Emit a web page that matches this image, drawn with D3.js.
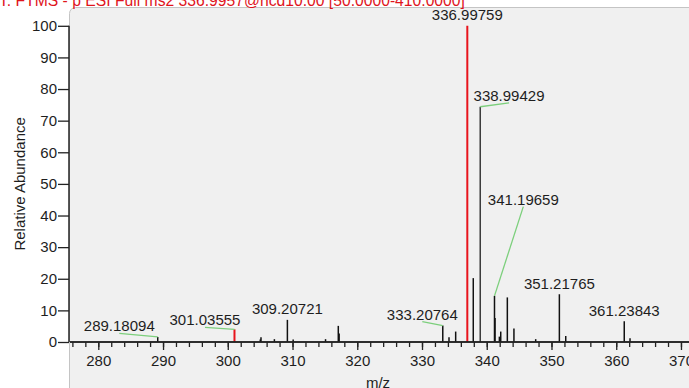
<!DOCTYPE html>
<html>
<head>
<meta charset="utf-8">
<script src="https://cdn.jsdelivr.net/npm/d3@7"></script>
<style>
  html, body { margin: 0; padding: 0; background: #ffffff; }
  svg { display: block; font-family: "Liberation Sans", Arial, sans-serif; }
</style>
</head>
<body>
<svg id="chart" width="689" height="388"></svg>
<script>
// ---- data ----
const titleText = "T: FTMS - p ESI Full ms2 336.9957@hcd10.00 [50.0000-410.0000]";
const xTitle = "m/z";
const yTitle = "Relative Abundance";
const xDomain = [275.63, 371.24];
const yDomain = [0, 100];
const xMajorTicks = [280, 290, 300, 310, 320, 330, 340, 350, 360, 370];
const xMinorTicks = d3.range(276, 372, 2);
const yTicks = [0, 10, 20, 30, 40, 50, 60, 70, 80, 90, 100];

const peakMz =        [289.18094, 301.03555, 305.02, 305.13, 307.20, 309.20721, 310.10, 315.10, 317.07, 317.20, 333.20764, 334.17, 335.20, 336.99759, 337.92, 338.99429, 341.19659, 341.28, 341.95, 342.16, 343.18, 344.20, 347.56, 351.21765, 352.20, 361.23843, 362.13];
const peakAbundance = [1.6,       4.0,       0.8,    1.5,    0.9,    7.0,       0.8,    0.9,    5.1,    2.7,    5.2,       1.5,    3.3,    100,       20.2,   74.4,      14.6,      7.6,    1.7,    3.3,    14.1,   4.3,    0.9,    15.1,      1.9,    6.6,       1.2];
const highlighted =   [301.03555, 336.99759];

// labelled peaks; labelAtMz/labelAtAb = anchor of the leader line under the label (null = label directly above)
const labelMz =    [289.18094, 301.03555, 309.20721, 333.20764, 336.99759, 338.99429, 341.19659, 351.21765, 361.23843];
const labelAtMz =  [283.24,    296.48,    null,      330.05,    null,      343.44,    345.65,    null,      null];
const labelAtAb =  [2.75,      4.65,      null,      6.42,      null,      75.6,      42.8,      null,      null];

// ---- drawing ----
const svg = d3.select("#chart");
const x = d3.scaleLinear().domain(xDomain).range([70, 689]);
const y = d3.scaleLinear().domain(yDomain).range([342, 25.8]);
const textColor = "#1e1e1e";

// plot panel
svg.append("rect")
  .attr("x", 69.5).attr("y", 7.5)
  .attr("width", 700).attr("height", 400)
  .attr("rx", 6)
  .attr("fill", "#f0f0f0")
  .attr("stroke", "#c4c4c4")
  .attr("stroke-width", 1);

// title (partially cut at top, as in the reference)
svg.append("text")
  .attr("x", -1).attr("y", 5.5)
  .attr("fill", "#e0141c")
  .attr("font-size", 15.7)
  .text(titleText);

// peaks
const peaks = peakMz.map((m, i) => ({ mz: m, ab: peakAbundance[i], hi: highlighted.includes(m) }));
svg.append("g").selectAll("line").data(peaks).join("line")
  .attr("x1", d => x(d.mz)).attr("x2", d => x(d.mz))
  .attr("y1", y(0)).attr("y2", d => y(d.ab))
  .attr("stroke", d => d.hi ? "#e8141c" : (d.ab > 50 ? "#3a3a3a" : "#111"))
  .attr("stroke-width", d => d.hi ? 2 : 1.5);

// labels
const labels = labelMz.map((m, i) => {
  const k = peakMz.indexOf(m);
  return { mz: m, ab: peakAbundance[k], lx: labelAtMz[i], ly: labelAtAb[i] };
});
const lg = svg.append("g");
labels.forEach(d => {
  if (d.lx !== null) {
    lg.append("line")
      .attr("x1", x(d.lx)).attr("y1", y(d.ly))
      .attr("x2", x(d.mz)).attr("y2", y(d.ab))
      .attr("stroke", "#7ccf7c").attr("stroke-width", 1.3);
    lg.append("text")
      .attr("x", x(d.lx)).attr("y", y(d.ly) - 2)
      .attr("text-anchor", "middle")
      .attr("font-size", 15).attr("fill", textColor)
      .text(d.mz.toFixed(5));
  } else {
    lg.append("text")
      .attr("x", x(d.mz)).attr("y", y(d.ab) - 5.5)
      .attr("text-anchor", "middle")
      .attr("font-size", 15).attr("fill", textColor)
      .text(d.mz.toFixed(5));
  }
});

// x axis
const xMinor = svg.append("g").attr("transform", `translate(0,${y(0)})`)
  .call(d3.axisBottom(x).tickValues(xMinorTicks).tickSize(5).tickFormat(""));
const xMajor = svg.append("g").attr("transform", `translate(0,${y(0)})`)
  .call(d3.axisBottom(x).tickValues(xMajorTicks).tickSize(8).tickPadding(5).tickFormat(d3.format("d")));
[xMinor, xMajor].forEach(g => {
  g.select(".domain").attr("stroke", "#222").attr("stroke-width", 1.5).attr("d", `M70,0H689`);
  g.selectAll(".tick line").attr("stroke", "#222").attr("stroke-width", 1.3);
  g.selectAll("text").attr("font-size", 15).attr("fill", textColor).attr("font-family", "Liberation Sans, Arial, sans-serif");
});

// y axis
const yAx = svg.append("g").attr("transform", `translate(69,0)`)
  .call(d3.axisLeft(y).tickValues(yTicks).tickSize(11).tickPadding(1).tickFormat(d3.format("d")));
yAx.select(".domain").attr("stroke", "#222").attr("stroke-width", 1.5).attr("d", `M0,${y(100)}V${y(0)}`);
yAx.selectAll(".tick line").attr("stroke", "#222").attr("stroke-width", 1.3);
yAx.selectAll("text").attr("font-size", 15).attr("fill", textColor).attr("font-family", "Liberation Sans, Arial, sans-serif");

// axis titles
svg.append("text")
  .attr("x", 378).attr("y", 388)
  .attr("text-anchor", "middle")
  .attr("font-size", 15).attr("fill", textColor)
  .text(xTitle);
svg.append("text")
  .attr("transform", `translate(25,${(y(0) + y(100)) / 2}) rotate(-90)`)
  .attr("text-anchor", "middle")
  .attr("font-size", 15).attr("fill", textColor)
  .text(yTitle);
</script>
</body>
</html>
